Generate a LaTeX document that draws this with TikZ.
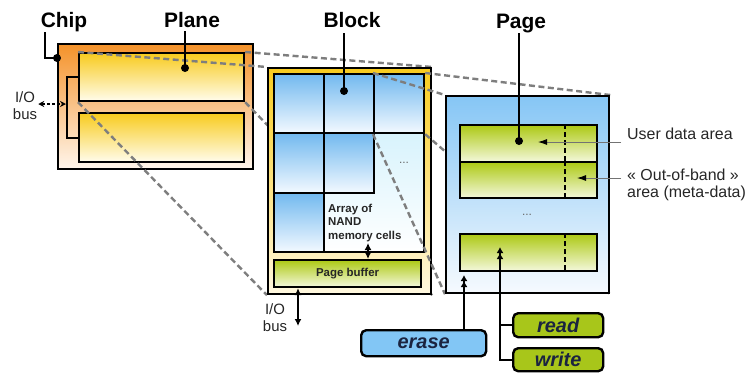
\documentclass[tikz,border=0pt]{standalone}
\usepackage{fontspec}
\setmainfont{Liberation Sans}
\usetikzlibrary{arrows.meta}

\definecolor{chipTop}{HTML}{F4922A}
\definecolor{chipMid}{HTML}{FAC58C}
\definecolor{chipBot}{HTML}{FFF6EC}
\definecolor{goldTop}{HTML}{F8CB1E}
\definecolor{goldBot}{HTML}{FFFCEC}
\definecolor{creamBot}{HTML}{FFF8E0}
\definecolor{cellTop}{HTML}{72B9EF}
\definecolor{cellBot}{HTML}{F3F9FF}
\definecolor{cyanTop}{HTML}{C4EDFB}
\definecolor{leafTop}{HTML}{ADC915}
\definecolor{leafBot}{HTML}{F4F8DC}
\definecolor{pageTop}{HTML}{86C6F5}
\definecolor{pageBot}{HTML}{F6FAFE}
\definecolor{eraseBlue}{HTML}{82C6F5}
\definecolor{leafCmd}{HTML}{A8C61A}
\definecolor{navy}{HTML}{1B2440}
\definecolor{projGrey}{HTML}{7E7E7E}

\pgfdeclarelayer{chipL}
\pgfdeclarelayer{projA}
\pgfdeclarelayer{blockL}
\pgfdeclarelayer{projB}
\pgfsetlayers{chipL,projA,blockL,projB,main}

\begin{document}
\begin{tikzpicture}[x=1bp,y=-1bp,
  rbox/.style={rectangle, draw=black, line width=2.2bp, inner sep=0pt, anchor=north west},
  cellbox/.style={rbox, top color=cellTop, bottom color=cellBot},
  leafbox/.style={rbox, top color=leafTop, bottom color=leafBot},
  proj/.style={draw=projGrey, line width=2.4bp, dash pattern=on 6bp off 3.5bp},
  pointer/.style={draw=black, line width=2bp},
  dotmark/.style={circle, fill=black, inner sep=0pt, minimum size=8bp},
  ttl/.style={font=\bfseries\fontsize{21}{24}\selectfont, anchor=base, inner sep=1bp},
  buslbl/.style={font=\fontsize{15}{17}\selectfont, align=center, inner sep=1bp, text=black!85},
  note/.style={font=\fontsize{16}{17}\selectfont, align=left, anchor=west, inner sep=0pt, text=black!85},
  cmd/.style={rectangle, rounded corners=5bp, draw=black, line width=2.4bp, inner sep=0pt,
    font=\bfseries\itshape\fontsize{20}{22}\selectfont, text=navy, anchor=north west},
  dbl/.style={line width=2bp, {Latex[length=7bp,width=7bp]}-{Latex[length=7bp,width=7bp]}},
  busdash/.style={line width=1.6bp, densely dashed, {Stealth[length=6bp,width=6bp]}-{Stealth[length=6bp,width=6bp]}},
  twohead/.style={line width=2bp, -{Latex[length=6bp,width=7bp]Latex[length=6bp,width=7bp]}},
  divider/.style={line width=2.4bp, dash pattern=on 4.5bp off 3.5bp},
  noteline/.style={draw=black!55, line width=0.9bp, -{Latex[length=9bp,width=6bp,color=black]}},
  dots/.style={font=\fontsize{12}{12}\selectfont, text=black!60}
]
\useasboundingbox (0,0) rectangle (751,372);

% ---------- chip with its two planes ----------
\begin{pgfonlayer}{chipL}
  \fill[white] (0,0) rectangle (751,372);
  \node[rbox, minimum width=195bp, minimum height=125bp,
        top color=chipTop, middle color=chipMid, bottom color=chipBot] (chip) at (57,43) {};
  \node[rbox, minimum width=165bp, minimum height=48bp,
        top color=goldTop, bottom color=goldBot] (plane1) at (78,52) {};
  \node[rbox, minimum width=165bp, minimum height=49bp,
        top color=goldTop, bottom color=goldBot] (plane2) at (78,112) {};
  \draw[line width=2bp] (plane1.west) -- ++(-11,0) |- (plane2.west);
  \coordinate (chipBus) at (66,104);
  \node[buslbl] (chipIO) at (25,106) {I/O\\bus};
  \draw[busdash] (chipIO.east |- chipBus) -- (chipBus);
\end{pgfonlayer}

% ---------- block: cell array and page buffer ----------
\begin{pgfonlayer}{blockL}
  \node[rbox, minimum width=163bp, minimum height=226bp,
        top color=goldTop, bottom color=creamBot] (block) at (267,67) {};
  \node[rbox, minimum width=150bp, minimum height=178bp,
        top color=cyanTop, bottom color=white] (array) at (273,73) {};
  \node[cellbox, minimum width=50bp, minimum height=59bp] (c11) at (273,73) {};
  \node[cellbox, minimum width=50bp, minimum height=59bp] (c12) at (323,73) {};
  \node[cellbox, minimum width=50bp, minimum height=59bp] (c13) at (373,73) {};
  \node[cellbox, minimum width=50bp, minimum height=60bp] (c21) at (273,132) {};
  \node[cellbox, minimum width=50bp, minimum height=60bp] (c22) at (323,132) {};
  \node[cellbox, minimum width=50bp, minimum height=59bp] (c31) at (273,192) {};
  \node[dots] (blockDots) at (404,163) {...};
  % multi-line node: its base is the baseline of the last line
  \node[anchor=base west, inner sep=0pt, align=left, text=black!85,
        font=\bfseries\fontsize{11.5}{13.5}\selectfont] (arrTxt) at (328,239)
        {Array of\\NAND\\memory cells};
  \node[leafbox, minimum width=147bp, minimum height=27bp, text=black!85,
        font=\bfseries\fontsize{11.5}{13}\selectfont] (pbuf) at (273,259) {Page buffer};
  \coordinate (arrPort) at (368,243);
  \draw[dbl] (arrPort) -- (arrPort |- pbuf.north);
\end{pgfonlayer}

% block I/O bus
\coordinate (blkBusEnd) at (298,326);
\draw[dbl] (blkBusEnd |- pbuf.south) -- (blkBusEnd);
\node[buslbl] (blockIO) at (275,318) {I/O\\bus};

% ---------- page ----------
\node[rbox, minimum width=163bp, minimum height=197bp,
      top color=pageTop, bottom color=pageBot] (page) at (445,95) {};
\node[leafbox, minimum width=137bp, minimum height=37bp] (row1) at (459,124) {};
\node[leafbox, minimum width=137bp, minimum height=36bp] (row2) at (459,161) {};
\node[leafbox, minimum width=137bp, minimum height=37bp] (row3) at (459,233) {};
\coordinate (oob) at (565,0);
\draw[divider] (row1.north -| oob) -- (row1.south -| oob);
\draw[divider] (row2.north -| oob) -- (row2.south -| oob);
\draw[divider] (row3.north -| oob) -- (row3.south -| oob);
\node[dots] (pageDots) at (527,215) {...};

% annotations on the right
\coordinate (udTip) at (538,142);
\coordinate (udEnd) at (621,142);
\draw[noteline] (udEnd) -- (udTip);
\node[note] (udLbl) at (627,134) {User data area};
\coordinate (oobTip) at (577,178);
\coordinate (oobEnd) at (621,178);
\draw[noteline] (oobEnd) -- (oobTip);
\node[note] (oobLbl) at (627,185) {« Out-of-band »\\area (meta-data)};

% ---------- projection lines ----------
\begin{pgfonlayer}{projA}
  \draw[proj] (plane1.north west) -- (block.north west);
  \draw[proj] (plane1.north east) -- (block.north east);
  \draw[proj] (plane1.south west) -- (block.south west);
  \draw[proj] (plane1.south east) -- (block.south east);
\end{pgfonlayer}
\begin{pgfonlayer}{projB}
  \draw[proj] (c13.north west) -- (page.north west);
  \draw[proj] (c13.north east) -- (page.north east);
  \draw[proj] (c13.south west) -- (page.south west);
  \draw[proj] (c13.south east) -- (page.south east);
\end{pgfonlayer}

% ---------- titles and their pointers ----------
\node[ttl] (chipT) at (64,27) {Chip};
\node[ttl] (planeT) at (192,27) {Plane};
\node[ttl] (blockT) at (352,27) {Block};
\node[ttl] (pageT) at (521,28) {Page};

\coordinate (chipTop) at (45,32);
\coordinate (chipBend) at (45,58);
\coordinate (chipDot) at (57,58);
\draw[pointer] (chipTop) -- (chipBend) -- (chipDot);
\node[dotmark] at (chipDot) {};

\coordinate (planeTop) at (185,31);
\coordinate (planeDot) at (185,68);
\draw[pointer] (planeTop) -- (planeDot);
\node[dotmark] at (planeDot) {};

\coordinate (blockTop) at (344,33);
\coordinate (blockDot) at (344,91);
\draw[pointer] (blockTop) -- (blockDot);
\node[dotmark] at (blockDot) {};

\coordinate (pageTop) at (519,33);
\coordinate (pageDot) at (519,141);
\draw[pointer] (pageTop) -- (pageDot);
\node[dotmark] at (pageDot) {};

% ---------- operations ----------
\node[cmd, minimum width=125bp, minimum height=26bp, fill=eraseBlue] (erase) at (360,329) {erase};
\node[cmd, minimum width=90bp, minimum height=24bp, fill=leafCmd] (read) at (512,312) {read};
\node[cmd, minimum width=90bp, minimum height=23bp, fill=leafCmd] (write) at (512,347) {write};

\coordinate (eraseTip) at (464,275);
\draw[twohead] (erase.north -| eraseTip) -- (eraseTip);
\coordinate (rwTip) at (500,247);
\draw[twohead] (write.west) -| (rwTip);
\draw[line width=2bp] (read.west) -- (read.west -| rwTip);
\end{tikzpicture}
\end{document}
